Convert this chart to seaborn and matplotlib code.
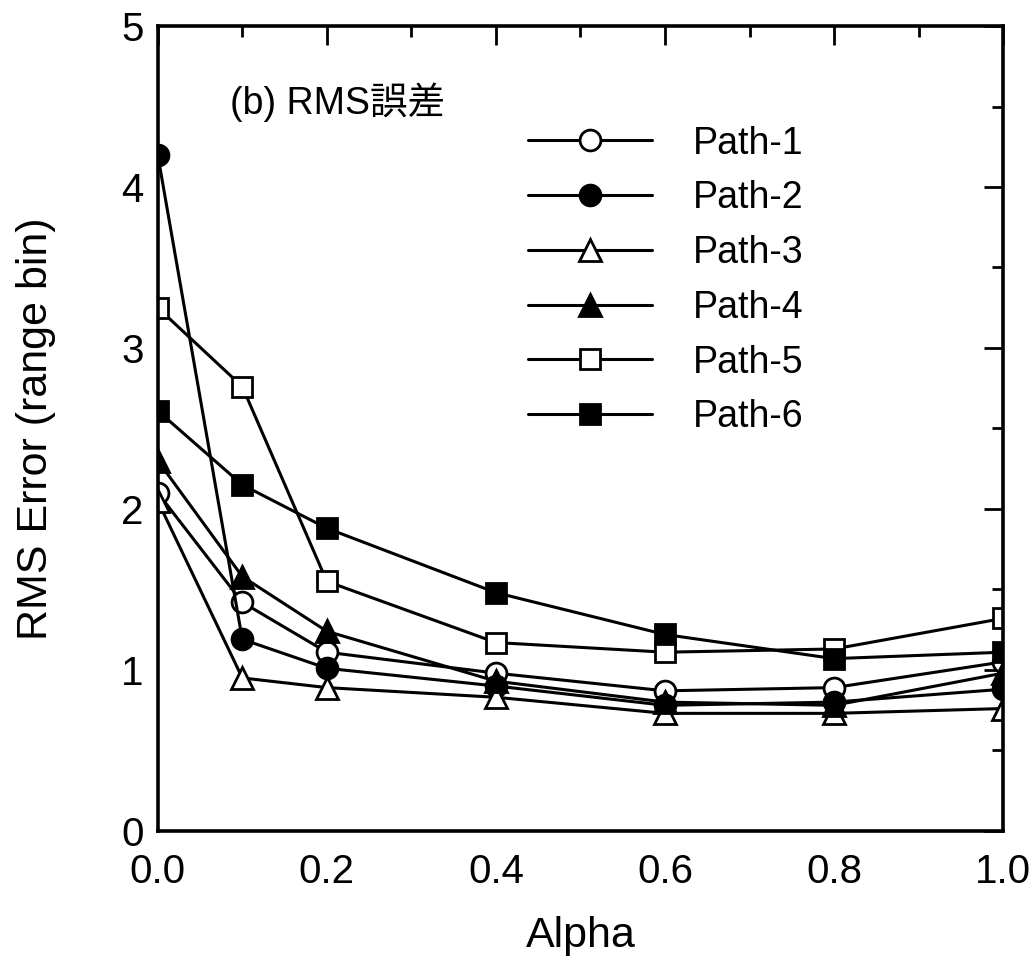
import matplotlib
matplotlib.use("Agg")
import matplotlib.pyplot as plt
from matplotlib.ticker import MultipleLocator, FormatStrFormatter
import seaborn as sns

sns.set_theme(style="white")
plt.rcParams["font.family"] = ["Liberation Sans", "Noto Sans CJK JP", "DejaVu Sans"]
plt.rcParams["text.color"] = "black"
plt.rcParams["axes.labelcolor"] = "black"
plt.rcParams["xtick.color"] = "black"
plt.rcParams["ytick.color"] = "black"

alpha = [0.0, 0.1, 0.2, 0.4, 0.6, 0.8, 1.0]
path1 = [2.10, 1.42, 1.11, 0.98, 0.87, 0.89, 1.05]
path2 = [4.20, 1.19, 1.01, 0.90, 0.78, 0.80, 0.88]
path3 = [2.05, 0.95, 0.89, 0.83, 0.73, 0.73, 0.76]
path4 = [2.30, 1.58, 1.24, 0.93, 0.80, 0.78, 0.98]
path5 = [3.25, 2.76, 1.55, 1.17, 1.11, 1.13, 1.32]
path6 = [2.61, 2.15, 1.88, 1.48, 1.22, 1.07, 1.11]

labels = ["Path-1", "Path-2", "Path-3", "Path-4", "Path-5", "Path-6"]
series = [path1, path2, path3, path4, path5, path6]
markers = ["o", "o", "^", "^", "s", "s"]
faces = ["white", "black", "white", "black", "white", "black"]

fig = plt.figure(figsize=(10.31, 9.65), dpi=100)
ax = fig.add_axes([0.153, 0.139, 0.820, 0.834])

for lab, vals, mk, fc in zip(labels, series, markers, faces):
    sns.lineplot(x=alpha, y=vals, ax=ax, color="black", linewidth=2.2,
                 marker=mk, markersize=15 if mk != "^" else 16,
                 markerfacecolor=fc, markeredgecolor="black",
                 markeredgewidth=2.0, label=lab)

ax.set_xlim(0, 1.0)
ax.set_ylim(0, 5)
ax.xaxis.set_major_locator(MultipleLocator(0.2))
ax.xaxis.set_minor_locator(MultipleLocator(0.1))
ax.yaxis.set_major_locator(MultipleLocator(1))
ax.yaxis.set_minor_locator(MultipleLocator(0.5))
ax.xaxis.set_major_formatter(FormatStrFormatter("%.1f"))
ax.tick_params(which="both", direction="in", top=True, right=True,
               labelsize=29, width=2, color="black")
ax.tick_params(which="major", length=14)
ax.tick_params(which="minor", length=8)
ax.tick_params(axis="x", which="major", pad=16)
ax.tick_params(axis="y", which="major", pad=10)
for sp in ax.spines.values():
    sp.set_color("black")
    sp.set_linewidth(2.6)

ax.set_xlabel("Alpha", fontsize=31, labelpad=18)
ax.set_ylabel("RMS Error (range bin)", fontsize=31, labelpad=47)

ax.text(0.085, 0.905, "(b) RMS誤差", transform=ax.transAxes,
        fontsize=27, va="center", ha="left")

ax.legend(loc="upper left", bbox_to_anchor=(0.42, 0.895), frameon=False,
          fontsize=27, handlelength=3.3, handletextpad=1.1,
          labelspacing=0.5, borderaxespad=0)

fig.savefig("out.png", dpi=100, facecolor="white")
